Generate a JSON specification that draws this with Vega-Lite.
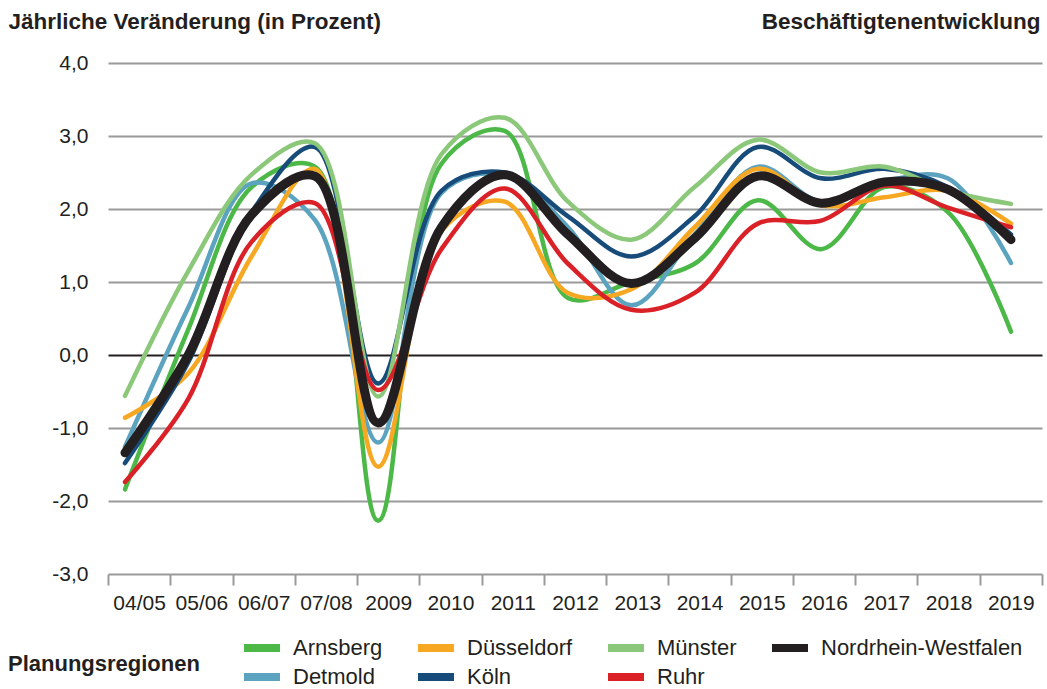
{
  "$schema": "https://vega.github.io/schema/vega-lite/v6.json",
  "width": 947,
  "height": 511,
  "autosize": "none",
  "padding": {"left": 95, "top": 63, "right": 5, "bottom": 115},
  "background": "white",
  "config": {
    "view": {"stroke": null},
    "font": "Liberation Sans",
    "axis": {"labelFont": "Liberation Sans", "titleFont": "Liberation Sans", "labelColor": "#231f20", "titleColor": "#231f20"},
    "legend": {"labelFont": "Liberation Sans", "titleFont": "Liberation Sans"}
  },
  "data": {
    "values": [
      {"Jahr": "04/05", "i": 0, "Region": "Arnsberg", "Wert": -1.84},
      {"Jahr": "05/06", "i": 1, "Region": "Arnsberg", "Wert": 0.35},
      {"Jahr": "06/07", "i": 2, "Region": "Arnsberg", "Wert": 2.3},
      {"Jahr": "07/08", "i": 3, "Region": "Arnsberg", "Wert": 2.58},
      {"Jahr": "2009", "i": 4, "Region": "Arnsberg", "Wert": -2.27},
      {"Jahr": "2010", "i": 5, "Region": "Arnsberg", "Wert": 2.62},
      {"Jahr": "2011", "i": 6, "Region": "Arnsberg", "Wert": 3.07},
      {"Jahr": "2012", "i": 7, "Region": "Arnsberg", "Wert": 0.78},
      {"Jahr": "2013", "i": 8, "Region": "Arnsberg", "Wert": 1.0},
      {"Jahr": "2014", "i": 9, "Region": "Arnsberg", "Wert": 1.25},
      {"Jahr": "2015", "i": 10, "Region": "Arnsberg", "Wert": 2.12},
      {"Jahr": "2016", "i": 11, "Region": "Arnsberg", "Wert": 1.45},
      {"Jahr": "2017", "i": 12, "Region": "Arnsberg", "Wert": 2.3},
      {"Jahr": "2018", "i": 13, "Region": "Arnsberg", "Wert": 1.96},
      {"Jahr": "2019", "i": 14, "Region": "Arnsberg", "Wert": 0.32},
      {"Jahr": "04/05", "i": 0, "Region": "Detmold", "Wert": -1.26},
      {"Jahr": "05/06", "i": 1, "Region": "Detmold", "Wert": 0.65},
      {"Jahr": "06/07", "i": 2, "Region": "Detmold", "Wert": 2.35},
      {"Jahr": "07/08", "i": 3, "Region": "Detmold", "Wert": 1.85},
      {"Jahr": "2009", "i": 4, "Region": "Detmold", "Wert": -1.2},
      {"Jahr": "2010", "i": 5, "Region": "Detmold", "Wert": 2.22},
      {"Jahr": "2011", "i": 6, "Region": "Detmold", "Wert": 2.47},
      {"Jahr": "2012", "i": 7, "Region": "Detmold", "Wert": 1.75},
      {"Jahr": "2013", "i": 8, "Region": "Detmold", "Wert": 0.68},
      {"Jahr": "2014", "i": 9, "Region": "Detmold", "Wert": 1.65},
      {"Jahr": "2015", "i": 10, "Region": "Detmold", "Wert": 2.58},
      {"Jahr": "2016", "i": 11, "Region": "Detmold", "Wert": 2.1},
      {"Jahr": "2017", "i": 12, "Region": "Detmold", "Wert": 2.38},
      {"Jahr": "2018", "i": 13, "Region": "Detmold", "Wert": 2.42},
      {"Jahr": "2019", "i": 14, "Region": "Detmold", "Wert": 1.26},
      {"Jahr": "04/05", "i": 0, "Region": "Düsseldorf", "Wert": -0.86},
      {"Jahr": "05/06", "i": 1, "Region": "Düsseldorf", "Wert": -0.25},
      {"Jahr": "06/07", "i": 2, "Region": "Düsseldorf", "Wert": 1.35},
      {"Jahr": "07/08", "i": 3, "Region": "Düsseldorf", "Wert": 2.55},
      {"Jahr": "2009", "i": 4, "Region": "Düsseldorf", "Wert": -1.53},
      {"Jahr": "2010", "i": 5, "Region": "Düsseldorf", "Wert": 1.7},
      {"Jahr": "2011", "i": 6, "Region": "Düsseldorf", "Wert": 2.1},
      {"Jahr": "2012", "i": 7, "Region": "Düsseldorf", "Wert": 0.85},
      {"Jahr": "2013", "i": 8, "Region": "Düsseldorf", "Wert": 0.9},
      {"Jahr": "2014", "i": 9, "Region": "Düsseldorf", "Wert": 1.75},
      {"Jahr": "2015", "i": 10, "Region": "Düsseldorf", "Wert": 2.55},
      {"Jahr": "2016", "i": 11, "Region": "Düsseldorf", "Wert": 2.05},
      {"Jahr": "2017", "i": 12, "Region": "Düsseldorf", "Wert": 2.16},
      {"Jahr": "2018", "i": 13, "Region": "Düsseldorf", "Wert": 2.25},
      {"Jahr": "2019", "i": 14, "Region": "Düsseldorf", "Wert": 1.8},
      {"Jahr": "04/05", "i": 0, "Region": "Köln", "Wert": -1.48},
      {"Jahr": "05/06", "i": 1, "Region": "Köln", "Wert": -0.1},
      {"Jahr": "06/07", "i": 2, "Region": "Köln", "Wert": 1.95},
      {"Jahr": "07/08", "i": 3, "Region": "Köln", "Wert": 2.85},
      {"Jahr": "2009", "i": 4, "Region": "Köln", "Wert": -0.39},
      {"Jahr": "2010", "i": 5, "Region": "Köln", "Wert": 2.25},
      {"Jahr": "2011", "i": 6, "Region": "Köln", "Wert": 2.5},
      {"Jahr": "2012", "i": 7, "Region": "Köln", "Wert": 1.9},
      {"Jahr": "2013", "i": 8, "Region": "Köln", "Wert": 1.35},
      {"Jahr": "2014", "i": 9, "Region": "Köln", "Wert": 1.9},
      {"Jahr": "2015", "i": 10, "Region": "Köln", "Wert": 2.85},
      {"Jahr": "2016", "i": 11, "Region": "Köln", "Wert": 2.42},
      {"Jahr": "2017", "i": 12, "Region": "Köln", "Wert": 2.55},
      {"Jahr": "2018", "i": 13, "Region": "Köln", "Wert": 2.3},
      {"Jahr": "2019", "i": 14, "Region": "Köln", "Wert": 1.65},
      {"Jahr": "04/05", "i": 0, "Region": "Münster", "Wert": -0.56},
      {"Jahr": "05/06", "i": 1, "Region": "Münster", "Wert": 1.15},
      {"Jahr": "06/07", "i": 2, "Region": "Münster", "Wert": 2.47},
      {"Jahr": "07/08", "i": 3, "Region": "Münster", "Wert": 2.9},
      {"Jahr": "2009", "i": 4, "Region": "Münster", "Wert": -0.57},
      {"Jahr": "2010", "i": 5, "Region": "Münster", "Wert": 2.75},
      {"Jahr": "2011", "i": 6, "Region": "Münster", "Wert": 3.25},
      {"Jahr": "2012", "i": 7, "Region": "Münster", "Wert": 2.1},
      {"Jahr": "2013", "i": 8, "Region": "Münster", "Wert": 1.58},
      {"Jahr": "2014", "i": 9, "Region": "Münster", "Wert": 2.3},
      {"Jahr": "2015", "i": 10, "Region": "Münster", "Wert": 2.95},
      {"Jahr": "2016", "i": 11, "Region": "Münster", "Wert": 2.5},
      {"Jahr": "2017", "i": 12, "Region": "Münster", "Wert": 2.58},
      {"Jahr": "2018", "i": 13, "Region": "Münster", "Wert": 2.25},
      {"Jahr": "2019", "i": 14, "Region": "Münster", "Wert": 2.07},
      {"Jahr": "04/05", "i": 0, "Region": "Ruhr", "Wert": -1.74},
      {"Jahr": "05/06", "i": 1, "Region": "Ruhr", "Wert": -0.6},
      {"Jahr": "06/07", "i": 2, "Region": "Ruhr", "Wert": 1.55},
      {"Jahr": "07/08", "i": 3, "Region": "Ruhr", "Wert": 2.08},
      {"Jahr": "2009", "i": 4, "Region": "Ruhr", "Wert": -0.48},
      {"Jahr": "2010", "i": 5, "Region": "Ruhr", "Wert": 1.45},
      {"Jahr": "2011", "i": 6, "Region": "Ruhr", "Wert": 2.28},
      {"Jahr": "2012", "i": 7, "Region": "Ruhr", "Wert": 1.25},
      {"Jahr": "2013", "i": 8, "Region": "Ruhr", "Wert": 0.62},
      {"Jahr": "2014", "i": 9, "Region": "Ruhr", "Wert": 0.85},
      {"Jahr": "2015", "i": 10, "Region": "Ruhr", "Wert": 1.8},
      {"Jahr": "2016", "i": 11, "Region": "Ruhr", "Wert": 1.84},
      {"Jahr": "2017", "i": 12, "Region": "Ruhr", "Wert": 2.32},
      {"Jahr": "2018", "i": 13, "Region": "Ruhr", "Wert": 2.02},
      {"Jahr": "2019", "i": 14, "Region": "Ruhr", "Wert": 1.75},
      {"Jahr": "04/05", "i": 0, "Region": "Nordrhein-Westfalen", "Wert": -1.34},
      {"Jahr": "05/06", "i": 1, "Region": "Nordrhein-Westfalen", "Wert": 0.0},
      {"Jahr": "06/07", "i": 2, "Region": "Nordrhein-Westfalen", "Wert": 1.92},
      {"Jahr": "07/08", "i": 3, "Region": "Nordrhein-Westfalen", "Wert": 2.45},
      {"Jahr": "2009", "i": 4, "Region": "Nordrhein-Westfalen", "Wert": -0.93},
      {"Jahr": "2010", "i": 5, "Region": "Nordrhein-Westfalen", "Wert": 1.75},
      {"Jahr": "2011", "i": 6, "Region": "Nordrhein-Westfalen", "Wert": 2.47},
      {"Jahr": "2012", "i": 7, "Region": "Nordrhein-Westfalen", "Wert": 1.65},
      {"Jahr": "2013", "i": 8, "Region": "Nordrhein-Westfalen", "Wert": 0.98},
      {"Jahr": "2014", "i": 9, "Region": "Nordrhein-Westfalen", "Wert": 1.6},
      {"Jahr": "2015", "i": 10, "Region": "Nordrhein-Westfalen", "Wert": 2.45},
      {"Jahr": "2016", "i": 11, "Region": "Nordrhein-Westfalen", "Wert": 2.08},
      {"Jahr": "2017", "i": 12, "Region": "Nordrhein-Westfalen", "Wert": 2.37},
      {"Jahr": "2018", "i": 13, "Region": "Nordrhein-Westfalen", "Wert": 2.27},
      {"Jahr": "2019", "i": 14, "Region": "Nordrhein-Westfalen", "Wert": 1.58}
    ]
  },
  "encoding": {
    "y": {
      "field": "Wert",
      "type": "quantitative",
      "scale": {"domain": [-3, 4], "nice": false, "zero": false},
      "axis": {
        "values": [-3, -2, -1, 0, 1, 2, 3, 4],
        "labelExpr": "replace(replace(format(datum.value, '.1f'), '.', ','), '−', '-')",
        "labelFontSize": 21,
        "labelPadding": 7,
        "ticks": false,
        "domain": false,
        "grid": true,
        "gridColor": {"condition": {"test": "datum.value === 0", "value": "#231f20"}, "value": "#9a9a9a"},
        "gridWidth": 2,
        "title": "Jährliche Veränderung (in Prozent)",
        "titleAngle": 0,
        "titleAlign": "left",
        "titleBaseline": "alphabetic",
        "titleX": -87,
        "titleY": -35,
        "titleFontSize": 22.5,
        "titleFontWeight": "bold"
      }
    }
  },
  "layer": [
    {
      "mark": {"type": "point", "opacity": 0},
      "encoding": {
        "x": {
          "field": "Jahr",
          "type": "ordinal",
          "sort": null,
          "scale": {"type": "band", "range": [13, 947], "paddingInner": 0, "paddingOuter": 0},
          "axis": {
            "title": null,
            "domain": false,
            "tickBand": "extent",
            "tickSize": 11,
            "tickWidth": 2,
            "tickColor": "#9a9a9a",
            "labelFontSize": 21,
            "labelPadding": 7,
            "labelAngle": 0
          }
        }
      }
    },
    {
      "transform": [{"filter": "datum.Region !== 'Nordrhein-Westfalen'"}],
      "mark": {"type": "line", "interpolate": "catmull-rom", "strokeWidth": 4.5, "strokeCap": "round", "strokeJoin": "round"},
      "encoding": {
        "x": {
          "field": "i",
          "type": "quantitative",
          "scale": {"domain": [0, 14], "range": [30, 916], "nice": false, "zero": false},
          "axis": {
            "orient": "top",
            "labels": false,
            "ticks": false,
            "domain": false,
            "grid": false,
            "title": "Beschäftigtenentwicklung",
            "titleAnchor": "end",
            "titleAlign": "right",
            "titleBaseline": "alphabetic",
            "titleX": 945,
            "titleY": -35,
            "titleFontSize": 22.5,
            "titleFontWeight": "bold"
          }
        },
        "color": {"field": "Region", "type": "nominal"}
      }
    },
    {
      "transform": [{"filter": "datum.Region === 'Nordrhein-Westfalen'"}],
      "mark": {"type": "line", "interpolate": "catmull-rom", "strokeWidth": 9, "strokeCap": "round", "strokeJoin": "round"},
      "encoding": {
        "x": {"field": "i", "type": "quantitative", "scale": {"domain": [0, 14], "range": [30, 916], "nice": false, "zero": false}, "axis": null},
        "color": {
          "field": "Region",
          "type": "nominal",
          "scale": {
            "domain": ["Arnsberg", "Düsseldorf", "Münster", "Nordrhein-Westfalen", "Detmold", "Köln", "Ruhr"],
            "range": ["#4cb848", "#f7a823", "#8cc87a", "#231f20", "#5ba3bf", "#174c7a", "#da2128"]
          },
          "legend": {
            "title": "Planungsregionen",
            "orient": "none",
            "legendX": -87,
            "legendY": 572,
            "direction": "horizontal",
            "columns": 4,
            "titleOrient": "left",
            "titleAnchor": "middle",
            "titleBaseline": "middle",
            "titleFontSize": 22,
            "titleFontWeight": "bold",
            "titleColor": "#231f20",
            "titleLimit": 400,
            "titlePadding": 49,
            "labelFontSize": 22,
            "labelColor": "#231f20",
            "labelLimit": 400,
            "labelOffset": 18,
            "symbolType": "M-2,0H2",
            "symbolSize": 324,
            "symbolStrokeWidth": 8,
            "rowPadding": -4,
            "columnPadding": 19
          }
        }
      }
    }
  ],
  "resolve": {"scale": {"x": "independent"}}
}
